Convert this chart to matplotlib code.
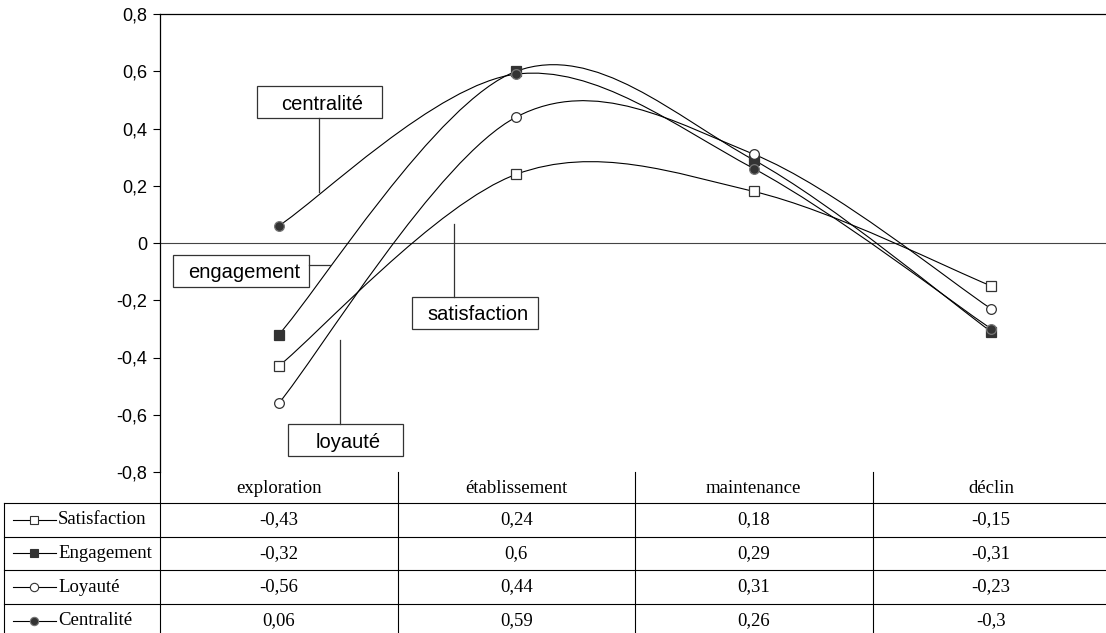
import numpy as np
import matplotlib.pyplot as plt
from matplotlib.path import Path
from matplotlib.patches import PathPatch, Rectangle
from matplotlib.lines import Line2D

stages = ["exploration", "établissement", "maintenance", "déclin"]
series_names = ["Satisfaction", "Engagement", "Loyauté", "Centralité"]
satisfaction = [-0.43, 0.24, 0.18, -0.15]
engagement = [-0.32, 0.6, 0.29, -0.31]
loyaute = [-0.56, 0.44, 0.31, -0.23]
centralite = [0.06, 0.59, 0.26, -0.3]
table_labels = [["-0,43", "0,24", "0,18", "-0,15"],
                ["-0,32", "0,6", "0,29", "-0,31"],
                ["-0,56", "0,44", "0,31", "-0,23"],
                ["0,06", "0,59", "0,26", "-0,3"]]
yticks = [-0.8, -0.6, -0.4, -0.2, 0, 0.2, 0.4, 0.6, 0.8]
ytick_labels = ["-0,8", "-0,6", "-0,4", "-0,2", "0", "0,2", "0,4", "0,6", "0,8"]

W, H = 1106, 633
fig = plt.figure(figsize=(W / 100, H / 100), dpi=100)

def fx(x):
    return x / W

def fy(y):
    return 1 - y / H

# plot area in pixels
left, right, top, bottom = 160, 1110, 14, 472
ax = fig.add_axes([fx(left), fy(bottom), fx(right - left), fy(top) - fy(bottom)])
ax.set_xlim(-0.5, 3.5)
ax.set_ylim(-0.8, 0.8)
ax.set_yticks(yticks)
ax.set_yticklabels(ytick_labels, fontfamily="Liberation Sans", fontsize=13)
ax.tick_params(axis="y", direction="out", length=5, width=0.8, pad=4)
ax.set_xticks([])
ax.spines["right"].set_visible(False)
ax.spines["bottom"].set_visible(False)
for s in ["left", "top"]:
    ax.spines[s].set_linewidth(0.9)
ax.axhline(0, color="#444444", lw=0.8, zorder=1)

# Excel-style smoothed lines (cubic bezier through points)
def smooth_path(ys):
    xs = list(range(len(ys)))
    pts = list(zip(xs, ys))
    verts = [pts[0]]
    codes = [Path.MOVETO]
    n = len(pts)
    for i in range(n - 1):
        p0 = pts[max(i - 1, 0)]
        p1 = pts[i]
        p2 = pts[i + 1]
        p3 = pts[min(i + 2, n - 1)]
        c1 = (p1[0] + (p2[0] - p0[0]) / 6, p1[1] + (p2[1] - p0[1]) / 6)
        c2 = (p2[0] - (p3[0] - p1[0]) / 6, p2[1] - (p3[1] - p1[1]) / 6)
        verts += [c1, c2, p2]
        codes += [Path.CURVE4] * 3
    return Path(verts, codes)

data = [satisfaction, engagement, loyaute, centralite]
styles = [dict(marker="s", mfc="white", mec="#333333"),
          dict(marker="s", mfc="#333333", mec="#333333"),
          dict(marker="o", mfc="white", mec="#333333"),
          dict(marker="o", mfc="#333333", mec="#777777")]
x = np.arange(len(stages))
for ys, st in zip(data, styles):
    ax.add_patch(PathPatch(smooth_path(ys), fill=False, ec="black", lw=0.8, zorder=2))
    ax.plot(x, ys, ls="none", ms=7, mew=0.9, zorder=3, **st)

# annotation boxes with leader lines (pixel coords)
def label_box(text, x0, y0, x1, y1, lx0, ly0, lx1, ly1):
    fig.add_artist(Rectangle((fx(x0), fy(y1)), fx(x1 - x0), fy(y0) - fy(y1),
                             fill=True, fc="white", ec="#333333", lw=0.9,
                             transform=fig.transFigure, zorder=5))
    fig.text(fx((x0 + x1) / 2 + 3), fy((y0 + y1) / 2 + 2), text, ha="center", va="center",
             fontfamily="Liberation Sans", fontsize=14.5, zorder=6)
    fig.add_artist(Line2D([fx(lx0), fx(lx1)], [fy(ly0), fy(ly1)], color="#333333",
                          lw=0.9, transform=fig.transFigure, zorder=5))

label_box("centralité", 257, 86, 382, 118, 319, 118, 319, 192)
label_box("engagement", 173, 255, 309, 287, 309, 265, 330, 265)
label_box("satisfaction", 412, 297, 538, 329, 454, 297, 454, 224)
label_box("loyauté", 288, 424, 403, 456, 340, 424, 340, 340)

# data table below the chart
def hline(x0, x1, y):
    fig.add_artist(Line2D([fx(x0), fx(x1)], [fy(y), fy(y)], color="black", lw=0.8,
                          transform=fig.transFigure))

def vline(x, y0, y1):
    fig.add_artist(Line2D([fx(x), fx(x)], [fy(y0), fy(y1)], color="black", lw=0.8,
                          transform=fig.transFigure))

col_w = (right - left) / len(stages)
row_h = 33.6
head_top, head_bot = 472, 503
row_tops = [head_bot + i * row_h for i in range(len(series_names) + 1)]
for y in row_tops[:-1]:
    hline(4, W, y)
vline(4, head_bot, H)
for i in range(len(stages)):
    vline(left + i * col_w, head_top, H)

serif = "Liberation Serif"
fs_tab = 13.5
for j, st in enumerate(stages):
    fig.text(fx(left + (j + 0.5) * col_w), fy((head_top + head_bot) / 2 + 1), st,
             ha="center", va="center", fontfamily=serif, fontsize=fs_tab)
for i, name in enumerate(series_names):
    yc = row_tops[i] + row_h / 2
    fig.add_artist(Line2D([fx(13), fx(56)], [fy(yc), fy(yc)], color="black", lw=0.8,
                          transform=fig.transFigure))
    fig.add_artist(Line2D([fx(34)], [fy(yc)], ls="none", ms=6, mew=0.8,
                          transform=fig.transFigure, **styles[i]))
    fig.text(fx(58), fy(yc), name, ha="left", va="center", fontfamily=serif, fontsize=fs_tab)
    for j in range(len(stages)):
        fig.text(fx(left + (j + 0.5) * col_w), fy(yc), table_labels[i][j],
                 ha="center", va="center", fontfamily=serif, fontsize=fs_tab)

fig.savefig("out.png", dpi=100)
